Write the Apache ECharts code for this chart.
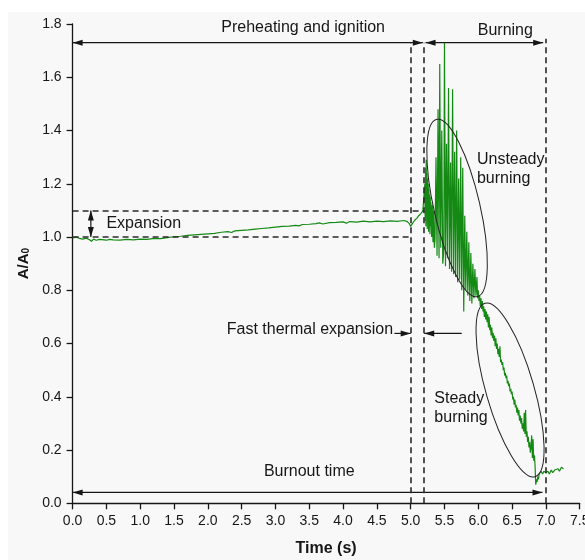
<!DOCTYPE html>
<html>
<head>
<meta charset="utf-8">
<script src="https://cdn.jsdelivr.net/npm/echarts@6/dist/echarts.min.js"></script>
<style>
  html, body { margin: 0; padding: 0; background: #ffffff; }
  #chart { width: 585px; height: 560px; }
</style>
</head>
<body>
<div id="chart"></div>
<script>
// Measured projected-area ratio A/A0 over time (s)
const time = [
  0.00, 0.05, 0.10, 0.15, 0.20, 0.25, 0.28, 0.31, 0.35, 0.40, 0.50, 0.55, 0.60, 0.70, 0.80, 0.90,
  1.00, 1.10, 1.20, 1.30, 1.40, 1.50, 1.60, 1.70, 1.80, 1.90, 2.00, 2.10, 2.20, 2.30, 2.35, 2.40,
  2.50, 2.60, 2.70, 2.80, 2.90, 3.00, 3.10, 3.20, 3.30, 3.35, 3.40, 3.50, 3.60, 3.65, 3.70, 3.80,
  3.90, 4.00, 4.05, 4.10, 4.20, 4.30, 4.40, 4.50, 4.60, 4.70, 4.80, 4.90, 4.95, 4.98, 5.00, 5.03,
  5.06, 5.09, 5.12, 5.15, 5.18, 5.20,
  5.21, 5.215, 5.22, 5.225, 5.23, 5.235, 5.24, 5.245, 5.25, 5.255, 5.26, 5.265, 5.27, 5.275, 5.28,
  5.285, 5.29, 5.295, 5.30, 5.31, 5.32, 5.33, 5.34, 5.35,
  5.36, 5.375, 5.39, 5.405, 5.42, 5.43, 5.445, 5.46, 5.475, 5.49, 5.50, 5.515, 5.53, 5.545, 5.56,
  5.575, 5.59, 5.605, 5.62, 5.635, 5.65, 5.665, 5.68, 5.695, 5.71, 5.725, 5.74, 5.755, 5.77, 5.785,
  5.80, 5.815, 5.83, 5.845, 5.86, 5.875, 5.89, 5.905, 5.92, 5.935, 5.95, 5.965, 5.98, 5.99, 6.00,
  6.01, 6.02, 6.03, 6.04, 6.05, 6.06, 6.07, 6.08, 6.09, 6.10, 6.11, 6.12, 6.13, 6.14, 6.15, 6.16,
  6.17, 6.18, 6.19, 6.20, 6.21, 6.22, 6.23, 6.24, 6.25, 6.26, 6.27, 6.28, 6.29, 6.30, 6.31, 6.32,
  6.33, 6.34, 6.35, 6.36, 6.37, 6.38, 6.39, 6.40, 6.41, 6.42, 6.43, 6.44, 6.45, 6.46, 6.47, 6.48,
  6.49, 6.50, 6.51, 6.52, 6.53, 6.54, 6.55, 6.56, 6.57, 6.58, 6.59, 6.60, 6.61, 6.62, 6.63, 6.64,
  6.65, 6.66, 6.67, 6.68, 6.69, 6.70, 6.71, 6.72, 6.73, 6.74, 6.75, 6.76, 6.77, 6.78, 6.79, 6.80,
  6.81, 6.82, 6.83, 6.84, 6.85, 6.86, 6.87, 6.88, 6.89, 6.90,
  6.93, 6.95, 6.97, 7.00, 7.03, 7.05, 7.08, 7.10, 7.13, 7.15, 7.18, 7.20, 7.23, 7.26
];
const ratio = [
  0.996, 1.000, 0.995, 0.992, 0.996, 0.990, 0.984, 0.992, 0.988, 0.991, 0.988, 0.991, 0.989, 0.988, 0.991, 0.989,
  0.992, 0.991, 0.995, 0.994, 0.998, 1.001, 1.003, 1.006, 1.008, 1.010, 1.012, 1.014, 1.018, 1.020, 1.017, 1.023,
  1.025, 1.027, 1.030, 1.032, 1.034, 1.037, 1.040, 1.041, 1.044, 1.042, 1.047, 1.048, 1.050, 1.053, 1.049, 1.054,
  1.055, 1.057, 1.052, 1.058, 1.056, 1.060, 1.057, 1.060, 1.058, 1.061, 1.059, 1.062, 1.058, 1.050, 1.040, 1.052,
  1.063, 1.070, 1.080, 1.088, 1.098, 1.105,
  1.20, 1.06, 1.26, 1.04, 1.29, 1.08, 1.24, 1.03, 1.22, 1.06, 1.20, 1.02, 1.18, 1.05, 1.16,
  1.01, 1.15, 1.04, 1.13, 1.00, 1.12, 0.98, 1.10, 0.96,
  0.99, 1.30, 0.93, 1.48, 0.92, 1.65, 0.96, 1.40, 0.90, 0.95, 1.73, 0.89, 1.35, 0.92, 1.56,
  0.88, 1.28, 0.87, 1.555, 0.86, 1.32, 0.85, 1.40, 0.83, 1.22, 0.84, 1.30, 0.80, 1.26, 0.72,
  1.08, 0.80, 1.02, 0.78, 0.98, 0.76, 0.94, 0.75, 0.90, 0.77, 0.88, 0.78, 0.85, 0.77, 0.80,
  0.76, 0.78, 0.74, 0.77, 0.73, 0.76, 0.72, 0.74, 0.70, 0.73, 0.69, 0.72, 0.68, 0.71, 0.66, 0.70,
  0.65, 0.67, 0.63, 0.66, 0.62, 0.64, 0.61, 0.63, 0.59, 0.62, 0.58, 0.60, 0.56, 0.58, 0.55, 0.59,
  0.53, 0.54, 0.52, 0.53, 0.50, 0.51, 0.48, 0.49, 0.47, 0.48, 0.45, 0.46, 0.44, 0.45, 0.42, 0.43,
  0.41, 0.42, 0.39, 0.40, 0.37, 0.39, 0.36, 0.37, 0.34, 0.36, 0.33, 0.35, 0.31, 0.33, 0.30, 0.32,
  0.28, 0.30, 0.27, 0.34, 0.26, 0.35, 0.25, 0.27, 0.23, 0.25, 0.21, 0.23, 0.19, 0.21, 0.255, 0.17,
  0.24, 0.16, 0.18, 0.14, 0.07, 0.09, 0.08, 0.10, 0.09, 0.11,
  0.12, 0.11, 0.12, 0.115, 0.12, 0.11, 0.125, 0.115, 0.125, 0.12, 0.13, 0.12, 0.135, 0.13
];

// Stage boundaries and guide lines, in data units
const dashedGuides = [
  [[5.0, 0], [5.0, 1.73]],
  [[5.2, 0], [5.2, 1.73]],
  [[7.0, 0], [7.0, 1.745]],
  [[0, 1.1], [5.2, 1.1]],
  [[0, 1.0], [5.0, 1.0]]
];
// Arrows: [x1, y1, x2, y2, head at start, head at end]; heads end exactly on the points
const arrowGuides = [
  [0.0, 1.73, 5.18, 1.73, 1, 1],
  [5.22, 1.73, 6.96, 1.73, 1, 1],
  [0.0, 0.041, 6.95, 0.041, 1, 1],
  [0.27, 1.0, 0.27, 1.1, 1, 1],
  [4.76, 0.638, 5.0, 0.638, 0, 1],
  [5.755, 0.638, 5.2, 0.638, 0, 1]
];
// Ellipses given by the two ends of their long axis
const ellipseGuides = [
  [5.386, 1.442, 5.987, 0.776],
  [6.10, 0.751, 6.84, 0.100]
];
const ellipseHalfWidths = [23, 24];
// Text annotations
const noteText = [
  'Preheating and ignition', 'Burning', 'Expansion', 'Unsteady\nburning',
  'Fast thermal expansion', 'Steady\nburning', 'Burnout time'
];
const notePos = [
  [3.41, 1.785], [6.40, 1.777], [0.50, 1.05], [5.98, 1.256],
  [4.74, 0.652], [5.35, 0.357], [3.50, 0.119]
];
const noteAlign = ['center', 'center', 'left', 'left', 'right', 'left', 'center'];

const FONT = "'Liberation Sans', Arial, sans-serif";
const INK = '#161616';

const chart = echarts.init(document.getElementById('chart'), null, { renderer: 'canvas' });

function arrowHead(tip, from) {
  const dx = tip[0] - from[0], dy = tip[1] - from[1];
  const len = Math.sqrt(dx * dx + dy * dy) || 1;
  const ux = dx / len, uy = dy / len;
  const hl = 10, hw = 3;
  const bx = tip[0] - ux * hl, by = tip[1] - uy * hl;
  return {
    type: 'polygon',
    shape: { points: [[tip[0], tip[1]], [bx - uy * hw, by + ux * hw], [bx + uy * hw, by - ux * hw]] },
    style: { fill: INK }
  };
}

const series = [
  {
    name: 'guides',
    type: 'line',
    data: [],
    silent: true,
    z: 1,
    markLine: {
      silent: true,
      animation: false,
      symbol: 'none',
      label: { show: false },
      lineStyle: { color: '#2a2a2a', width: 1.6, type: [6, 4] },
      data: dashedGuides.map(seg => [{ coord: seg[0] }, { coord: seg[1] }])
    }
  },
  {
    name: 'arrows',
    type: 'custom',
    z: 2,
    silent: true,
    animation: false,
    data: arrowGuides,
    renderItem: function (params, api) {
      const a = api.coord([api.value(0), api.value(1)]);
      const b = api.coord([api.value(2), api.value(3)]);
      const children = [{
        type: 'line',
        shape: { x1: a[0], y1: a[1], x2: b[0], y2: b[1] },
        style: { stroke: INK, lineWidth: 1.2 }
      }];
      if (api.value(4)) children.push(arrowHead(a, b));
      if (api.value(5)) children.push(arrowHead(b, a));
      return { type: 'group', children: children };
    }
  },
  {
    name: 'A/A0',
    type: 'line',
    data: time.map((t, i) => [t, ratio[i]]),
    showSymbol: false,
    symbol: 'none',
    z: 3,
    lineStyle: { color: '#148a14', width: 1.2 },
    animation: false
  },
  {
    name: 'ellipses',
    type: 'custom',
    z: 4,
    silent: true,
    animation: false,
    data: ellipseGuides,
    renderItem: function (params, api) {
      const p1 = api.coord([api.value(0), api.value(1)]);
      const p2 = api.coord([api.value(2), api.value(3)]);
      const dx = p2[0] - p1[0], dy = p2[1] - p1[1];
      const half = Math.sqrt(dx * dx + dy * dy) / 2;
      return {
        type: 'ellipse',
        x: (p1[0] + p2[0]) / 2,
        y: (p1[1] + p2[1]) / 2,
        rotation: -Math.atan2(dy, dx),
        shape: { cx: 0, cy: 0, rx: half, ry: ellipseHalfWidths[params.dataIndex] },
        style: { fill: 'none', stroke: '#222', lineWidth: 1 }
      };
    }
  },
  {
    name: 'notes',
    type: 'custom',
    z: 5,
    silent: true,
    animation: false,
    data: notePos,
    renderItem: function (params, api) {
      const p = api.coord([api.value(0), api.value(1)]);
      const i = params.dataIndex;
      return {
        type: 'text',
        x: p[0],
        y: p[1],
        style: {
          text: noteText[i],
          fill: INK,
          fontFamily: FONT,
          fontSize: 16,
          lineHeight: 19,
          align: noteAlign[i],
          verticalAlign: 'middle'
        }
      };
    }
  }
];

chart.setOption({
  animation: false,
  backgroundColor: '#ffffff',
  graphic: [{
    type: 'rect',
    left: 8, top: 12,
    shape: { width: 577, height: 548 },
    style: { fill: '#f8f8f8' },
    z: -10,
    silent: true
  }],
  grid: { left: 72.6, right: 5.3, top: 24, bottom: 56.7, containLabel: false, outerBoundsMode: 'none' },
  xAxis: {
    type: 'value',
    min: 0, max: 7.5, interval: 0.5,
    name: 'Time (s)',
    nameLocation: 'middle',
    nameGap: 37,
    nameTextStyle: { fontFamily: FONT, fontSize: 16, fontWeight: 'bold', color: INK },
    axisLine: { show: true, onZero: false, lineStyle: { color: INK, width: 1.3 } },
    axisTick: { show: true, length: 6, lineStyle: { color: INK, width: 1.3 } },
    axisLabel: { fontFamily: FONT, fontSize: 14, color: INK, margin: 11,
      formatter: v => v.toFixed(1), showMaxLabel: true, hideOverlap: false },
    splitLine: { show: false }
  },
  yAxis: {
    type: 'value',
    min: 0, max: 1.8, interval: 0.2,
    name: '{m|A/A}{s|0}',
    nameLocation: 'middle',
    nameGap: 41,
    nameTextStyle: {
      color: INK,
      rich: {
        m: { fontFamily: FONT, fontSize: 15, fontWeight: 'bold', color: INK, verticalAlign: 'bottom', lineHeight: 20 },
        s: { fontFamily: FONT, fontSize: 10, fontWeight: 'bold', color: INK, verticalAlign: 'bottom', lineHeight: 14 }
      }
    },
    axisLine: { show: true, lineStyle: { color: INK, width: 1.3 } },
    axisTick: { show: true, length: 6, lineStyle: { color: INK, width: 1.3 } },
    axisLabel: { fontFamily: FONT, fontSize: 14, color: INK, margin: 11,
      formatter: v => v.toFixed(1) },
    splitLine: { show: false }
  },
  series: series
});
</script>
</body>
</html>
